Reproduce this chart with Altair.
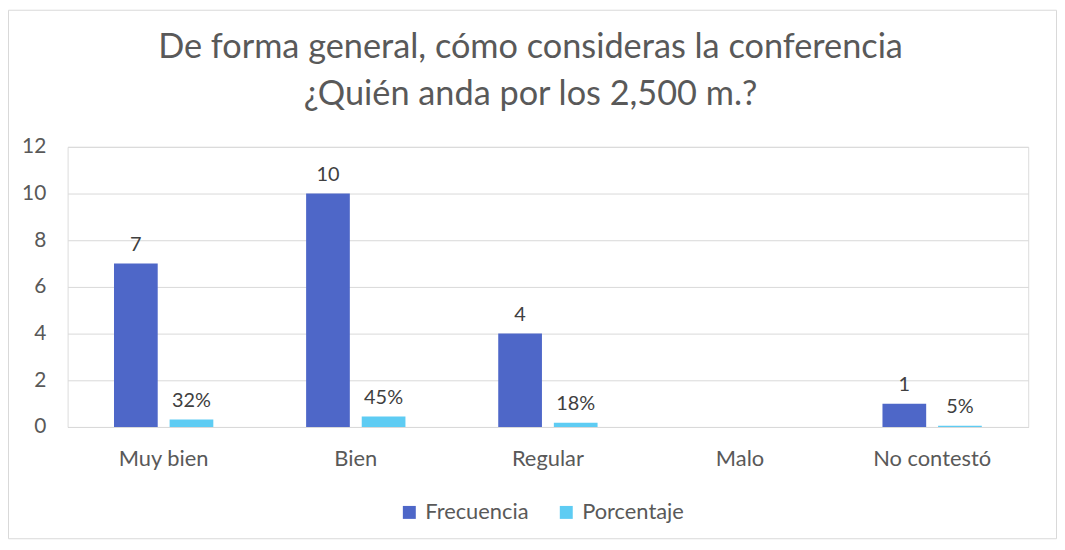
import altair as alt
import pandas as pd

categorias = ["Muy bien", "Bien", "Regular", "Malo", "No contestó"]
frecuencia = [7, 10, 4, None, 1]
porcentaje = [0.32, 0.45, 0.18, None, 0.05]
series = ["Frecuencia", "Porcentaje"]
colores = ["#4E67C8", "#5ECCF3"]
titulo = ["De forma general, cómo consideras la conferencia", "¿Quién anda por los 2,500 m.?"]

rows = []
for c, f, p in zip(categorias, frecuencia, porcentaje):
    rows.append({"cat": c, "serie": "Frecuencia", "valor": f,
                 "label": None if f is None else f"{f}"})
    rows.append({"cat": c, "serie": "Porcentaje", "valor": p,
                 "label": None if p is None else f"{round(p*100)}%"})
df = pd.DataFrame(rows)

FONT = "Lato"
W, H = 967, 282

x = alt.X("cat:N", sort=categorias, title=None,
          scale=alt.Scale(paddingInner=0.483, paddingOuter=0.2415),
          axis=alt.Axis(labelAngle=0, labelFontSize=22, labelColor="#595959", labelFont=FONT,
                        ticks=False, domainColor="#D9D9D9", domainWidth=1, labelPadding=22))
xo = alt.XOffset("serie:N", sort=series, scale=alt.Scale(paddingInner=0.214, paddingOuter=0))

base = alt.Chart(df)

bars = base.mark_bar().encode(
    x=x, xOffset=xo,
    y=alt.Y("valor:Q", title=None,
            scale=alt.Scale(domain=[0, 12], nice=False),
            axis=alt.Axis(values=[0, 2, 4, 6, 8, 10, 12], labelFontSize=21, labelColor="#595959",
                          labelFont=FONT, ticks=False, domain=False, gridColor="#D9D9D9",
                          labelPadding=22)),
    color=alt.Color("serie:N", sort=series, scale=alt.Scale(domain=series, range=colores),
                    legend=alt.Legend(title=None, orient="none", legendX=333, legendY=357,
                                      direction="horizontal", symbolType="square", symbolSize=170,
                                      labelFontSize=22, labelColor="#595959", labelFont=FONT,
                                      columnPadding=26, symbolStrokeWidth=0, labelOffset=5)),
)

labels = base.transform_filter("datum.label != null").mark_text(
    baseline="bottom", dy=-9, fontSize=20, color="#404040", font=FONT
).encode(x=x, xOffset=xo, y="valor:Q", text="label:N")

title = alt.Chart(pd.DataFrame({"a": [0]})).mark_text(
    text=titulo, font=FONT, fontSize=34.5, color="#595959", lineHeight=47,
    baseline="alphabetic", align="center"
).encode(x=alt.value(466), y=alt.value(-89))

border = alt.Chart(pd.DataFrame({"a": [0]})).mark_rect(
    fill=None, stroke="#D9D9D9", strokeWidth=1
).encode(x=alt.value(-59.5), x2=alt.value(W + 28.5), y=alt.value(-137.5), y2=alt.value(H + 112.5))

chart = alt.layer(bars, labels, title, border).properties(
    width=W, height=H,
    autosize=alt.AutoSizeParams(type="none"),
    padding={"left": 60, "top": 138, "right": 29, "bottom": 113},
).configure_view(stroke=None).configure(background="white")

chart.save("out.html", embed_options={"renderer": "svg", "actions": False})
